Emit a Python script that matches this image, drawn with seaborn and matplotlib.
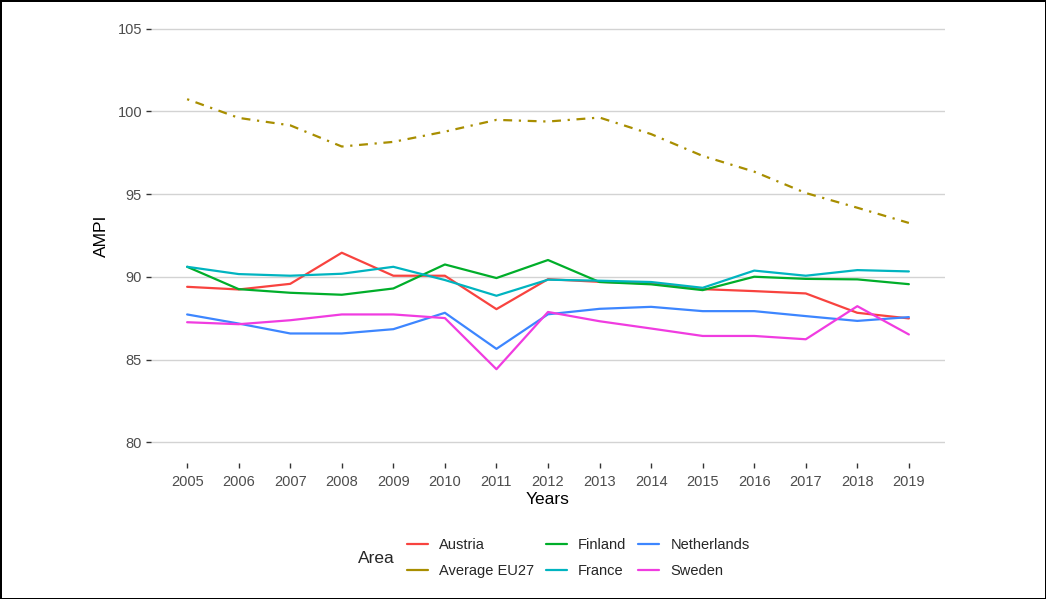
import pandas as pd
import matplotlib.pyplot as plt
import seaborn as sns
from matplotlib.lines import Line2D

# --- datos ---
years = list(range(2005, 2020))
austria = [89.40, 89.24, 89.58, 91.46, 90.07, 90.07, 88.05, 89.86, 89.70, 89.60, 89.26, 89.14, 89.00, 87.83, 87.49]
average_eu27 = [100.74, 99.61, 99.16, 97.88, 98.16, 98.78, 99.49, 99.39, 99.63, 98.63, 97.31, 96.36, 95.07, 94.18, 93.26]
finland = [90.61, 89.26, 89.04, 88.92, 89.30, 90.75, 89.93, 91.02, 89.69, 89.55, 89.20, 90.01, 89.88, 89.85, 89.56]
france = [90.61, 90.17, 90.07, 90.19, 90.61, 89.81, 88.86, 89.83, 89.77, 89.69, 89.34, 90.38, 90.07, 90.41, 90.33]
netherlands = [87.73, 87.18, 86.58, 86.58, 86.84, 87.83, 85.65, 87.74, 88.07, 88.19, 87.93, 87.93, 87.63, 87.34, 87.57]
sweden = [87.26, 87.14, 87.38, 87.73, 87.73, 87.51, 84.42, 87.88, 87.32, 86.88, 86.43, 86.43, 86.23, 88.23, 86.52]

areas = ["Austria", "Average EU27", "Finland", "France", "Netherlands", "Sweden"]
series = [austria, average_eu27, finland, france, netherlands, sweden]
colores = ["#F8433F", "#A88E00", "#00AE2A", "#00B4C0", "#3D86FF", "#F03CE0"]
y_ticks = [80, 85, 90, 95, 100, 105]

df = pd.DataFrame({
    "Years": years * len(areas),
    "AMPI": [v for s in series for v in s],
    "Area": [a for a in areas for _ in years],
})

sns.set_style("white")
plt.rcParams['font.family'] = ['Liberation Sans', 'DejaVu Sans']

fig = plt.figure(figsize=(10.46, 5.99), dpi=100)
fig.patch.set_edgecolor("black")
fig.patch.set_linewidth(2)
ax = fig.add_axes([0.1444, 0.227, 0.759, 0.7596])

palette = dict(zip(areas, colores))
dashes = {a: "" for a in areas}
dashes["Average EU27"] = (1, 3, 4, 3)

sns.lineplot(data=df, x="Years", y="AMPI", hue="Area", style="Area",
             palette=palette, dashes=dashes, linewidth=1.6, legend=False, ax=ax)

ax.set_xlim(2004.3, 2019.7)
ax.set_ylim(78.75, 106.25)
ax.set_xticks(years)
ax.set_yticks(y_ticks)
ax.yaxis.grid(True, color="#D3D3D3", linewidth=1)
ax.xaxis.grid(False)
ax.set_axisbelow(True)
for s in ax.spines.values():
    s.set_visible(False)
ax.tick_params(axis="both", bottom=True, left=True, colors="#333333", length=3.5, width=1,
               labelsize=10.5, labelcolor="#4D4D4D", pad=3)
ax.tick_params(axis="x", pad=5)
ax.set_xlabel("Years", fontsize=12.5, color="black", labelpad=2)
ax.set_ylabel("AMPI", fontsize=12.5, color="black", labelpad=6)

# leyenda abajo, con el titulo a la izquierda
handles = [Line2D([0], [0], color=c, lw=1.6) for c in colores]
fig.legend(handles, areas, loc="center", bbox_to_anchor=(0.553, 0.068), ncol=3,
           frameon=False, fontsize=10.5, handlelength=1.4, handletextpad=0.8,
           columnspacing=0.8, labelspacing=0.8)
fig.text(0.342, 0.068, "Area", fontsize=12.5, va="center", ha="left")

fig.savefig("out.png", dpi=100)
